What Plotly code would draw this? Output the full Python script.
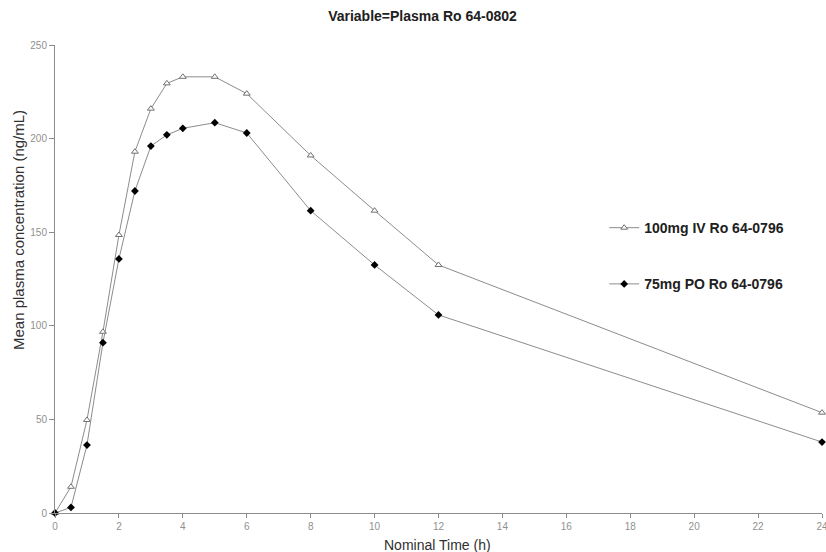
import plotly.graph_objects as go

time_h = [0, 0.5, 1, 1.5, 2, 2.5, 3, 3.5, 4, 5, 6, 8, 10, 12, 24]
iv_100mg = [0, 14, 49.7, 96.8, 148.5, 193, 216, 229.5, 233, 233, 224, 191, 161.5, 132.5, 53.6]
po_75mg = [0, 3, 36.3, 91, 135.7, 172, 196, 202, 205.5, 208.5, 203, 161.5, 132.5, 105.8, 37.9]

x_ticks = list(range(0, 25, 2))
y_ticks = [0, 50, 100, 150, 200, 250]

FONT = "Liberation Sans, Arial, sans-serif"
LINE = "#8c8c8c"

fig = go.Figure()
fig.add_trace(go.Scatter(
    x=time_h, y=iv_100mg, mode="lines+markers", name="<b>100mg IV Ro 64-0796</b>",
    line=dict(color=LINE, width=1),
    marker=dict(symbol="triangle-up", size=6, color="white",
                line=dict(color="#707070", width=1)),
    cliponaxis=False, legendgroup="a",
))
fig.add_trace(go.Scatter(
    x=time_h, y=po_75mg, mode="lines+markers", name="<b>75mg PO Ro 64-0796</b>",
    line=dict(color=LINE, width=1),
    marker=dict(symbol="diamond", size=6, color="black",
                line=dict(color="black", width=0)),
    cliponaxis=False, legendgroup="b",
))

fig.update_layout(
    width=826, height=552,
    margin=dict(l=55, r=4, t=45, b=39, autoexpand=False),
    paper_bgcolor="white", plot_bgcolor="white",
    font=dict(family=FONT, color="#808080", size=10),
    title=dict(text="<b>Variable=Plasma Ro 64-0802</b>", x=0.5115, xanchor="center",
               y=0.971, yanchor="middle",
               font=dict(family=FONT, size=14, color="#202020")),
    showlegend=True,
    legend=dict(x=0.716, y=0.643, xanchor="left", yanchor="top",
                bgcolor="rgba(0,0,0,0)", tracegroupgap=35, itemwidth=30,
                font=dict(family=FONT, size=14, color="#202020")),
    xaxis=dict(range=[0, 24], tickvals=x_ticks, ticktext=[str(v) for v in x_ticks],
               showgrid=False, zeroline=False, showline=True, linecolor=LINE, linewidth=1,
               ticks="outside", ticklen=4, tickcolor=LINE, ticklabeloverflow="allow",
               automargin=False,
               tickfont=dict(size=10, color="#909090")),
    yaxis=dict(range=[0, 250], tickvals=y_ticks, ticktext=[str(v) for v in y_ticks],
               showgrid=False, zeroline=False, showline=True, linecolor=LINE, linewidth=1,
               ticks="outside", ticklen=5, tickcolor=LINE, automargin=False,
               tickfont=dict(size=10, color="#909090")),
    annotations=[
        dict(text="Nominal Time (h)", xref="paper", yref="paper", x=0.4987, y=-0.0684,
             xanchor="center", yanchor="middle", showarrow=False,
             font=dict(family=FONT, size=14, color="#303030")),
        dict(text="Mean plasma concentration (ng/mL)", xref="paper", yref="paper",
             x=-0.0482, y=0.6047, xanchor="center", yanchor="middle", textangle=-90,
             showarrow=False, font=dict(family=FONT, size=15, color="#303030")),
    ],
)

fig.write_html(
    "out.html",
    config={"displayModeBar": False},
    post_script="document.body.style.margin='0';document.body.style.overflow='hidden';",
)
